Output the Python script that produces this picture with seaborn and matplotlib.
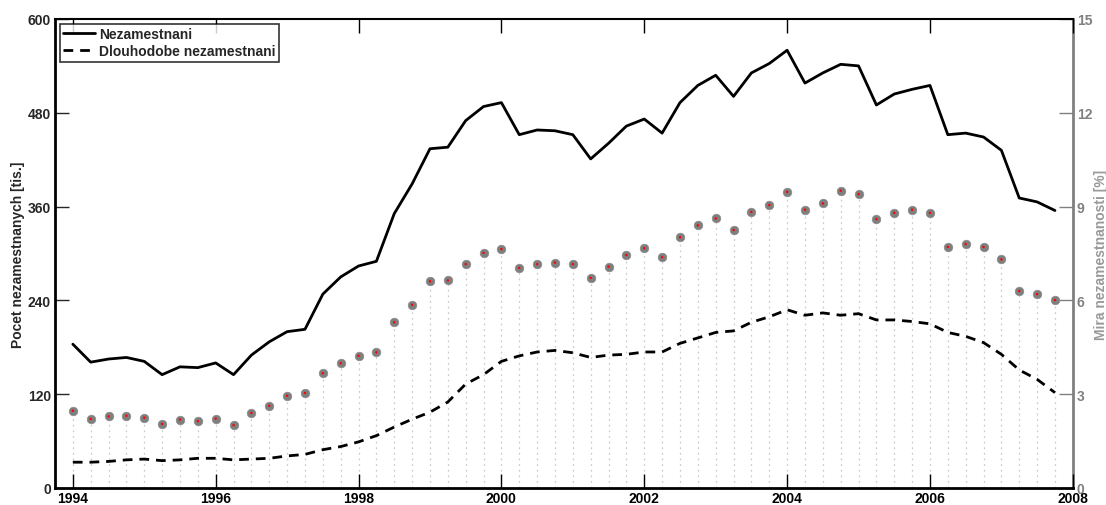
import numpy as np
import pandas as pd
import matplotlib
matplotlib.use("Agg")
import matplotlib.pyplot as plt
import seaborn as sns

# quarterly time axis 1994 Q1 .. 2007 Q4
years = [1994 + q / 4 for q in range(56)]

nezamestnani = [184, 161, 165, 167, 162, 145, 155, 154, 160, 145, 170, 187, 200, 203,
                248, 270, 284, 290, 351, 389, 434, 436, 470, 488, 493, 452, 458, 457,
                452, 421, 441, 463, 472, 454, 493, 515, 528, 501, 531, 543, 560, 518,
                531, 542, 540, 490, 504, 510, 515, 452, 454, 449, 432, 371, 366, 355]

dlouhodobe = [33, 33, 34, 36, 37, 35, 36, 38, 38, 36, 37, 38, 41, 43,
              49, 53, 59, 67, 78, 88, 97, 110, 133, 145, 162, 169, 174, 176,
              173, 167, 170, 171, 174, 174, 185, 192, 199, 201, 212, 219, 228, 221,
              224, 221, 223, 215, 215, 213, 210, 199, 194, 186, 171, 151, 139, 122]

mira = [2.47, 2.21, 2.29, 2.31, 2.25, 2.05, 2.19, 2.14, 2.22, 2.01, 2.40, 2.63, 2.95, 3.04,
        3.67, 3.99, 4.23, 4.34, 5.30, 5.86, 6.61, 6.64, 7.16, 7.52, 7.64, 7.04, 7.16, 7.21,
        7.16, 6.72, 7.08, 7.45, 7.67, 7.38, 8.02, 8.40, 8.62, 8.25, 8.83, 9.05, 9.47, 8.90,
        9.10, 9.51, 9.40, 8.60, 8.80, 8.90, 8.80, 7.71, 7.80, 7.71, 7.31, 6.30, 6.20, 6.01]

left_ticks = [0, 120, 240, 360, 480, 600]
right_ticks = [0, 3, 6, 9, 12, 15]
x_ticks = [1994, 1996, 1998, 2000, 2002, 2004, 2006, 2008]

sns.set_style("white")
plt.rcParams['font.family'] = ['Liberation Sans', 'DejaVu Sans']
plt.rcParams['font.weight'] = 'bold'

FS = 10

df = pd.DataFrame({"rok": years, "nez": nezamestnani, "dl": dlouhodobe, "mira": mira})

fig = plt.figure(figsize=(11.06, 5.06), dpi=100)
ax = fig.add_axes([0.0497, 0.0336, 0.9203, 0.9269])
ax2 = ax.twinx()

# right axis: stems and markers
ax2.vlines(df["rok"], 0, df["mira"], colors="#cccccc", linewidth=0.9,
           linestyles=(0, (1.5, 3)), zorder=1)
sns.scatterplot(data=df, x="rok", y="mira", ax=ax2, s=38, color="#7f7f7f",
                edgecolor="#8a8a8a", linewidth=0.5, zorder=3, legend=False)
sns.scatterplot(data=df, x="rok", y="mira", ax=ax2, s=3, color="#ff0000",
                edgecolor="none", zorder=4, legend=False)

# left axis: lines (draw above right axis)
ax.set_zorder(ax2.get_zorder() + 1)
ax.patch.set_visible(False)
sns.lineplot(data=df, x="rok", y="nez", ax=ax, color="black", linewidth=2,
             label="Nezamestnani")
sns.lineplot(data=df, x="rok", y="dl", ax=ax, color="black", linewidth=2,
             linestyle=(0, (3.5, 2.5)), label="Dlouhodobe nezamestnani")

ax.set_xlim(1993.75, 2008)
ax.set_ylim(0, 600)
ax2.set_ylim(0, 15)
ax.set_xticks(x_ticks)
ax.set_yticks(left_ticks)
ax2.set_yticks(right_ticks)
ax.set_xticklabels([str(t) for t in x_ticks], fontsize=FS, fontweight="bold")
ax.set_yticklabels([str(t) for t in left_ticks], fontsize=FS, fontweight="bold")
ax2.set_yticklabels([str(t) for t in right_ticks], fontsize=FS, fontweight="bold",
                    color="#808080")

ax.tick_params(axis="x", direction="in", length=10, width=1, top=True, bottom=True,
               pad=2, colors="black")
ax.tick_params(axis="y", direction="in", length=10, width=1, left=True, right=False,
               pad=3)
ax2.tick_params(axis="y", direction="in", length=10, width=1, right=True, left=False,
                colors="#808080", pad=3)

ax.set_xlabel("")
ax.set_ylabel("Pocet nezamestnanych [tis.]", fontsize=FS, fontweight="bold", labelpad=2)
ax2.set_ylabel("Mira nezamestnanosti [%]", fontsize=FS, fontweight="bold",
               color="#999999", labelpad=1)

for s in ["left", "bottom"]:
    ax.spines[s].set_linewidth(2)
    ax.spines[s].set_color("black")
ax.spines["top"].set_linewidth(1.5)
ax.spines["top"].set_color("black")
ax.spines["right"].set_visible(False)
for s in ["left", "top", "bottom"]:
    ax2.spines[s].set_visible(False)
ax2.spines["right"].set_linewidth(2)
ax2.spines["right"].set_color("#808080")

leg = ax.legend(loc="upper left", frameon=True, fancybox=False, shadow=False,
                prop={"weight": "bold", "size": FS}, borderpad=0.25, handlelength=2.3,
                handletextpad=0.25, labelspacing=0.2, borderaxespad=0.35)
leg.get_frame().set_edgecolor("black")
leg.get_frame().set_linewidth(1.2)

fig.savefig("out.png", dpi=100)
